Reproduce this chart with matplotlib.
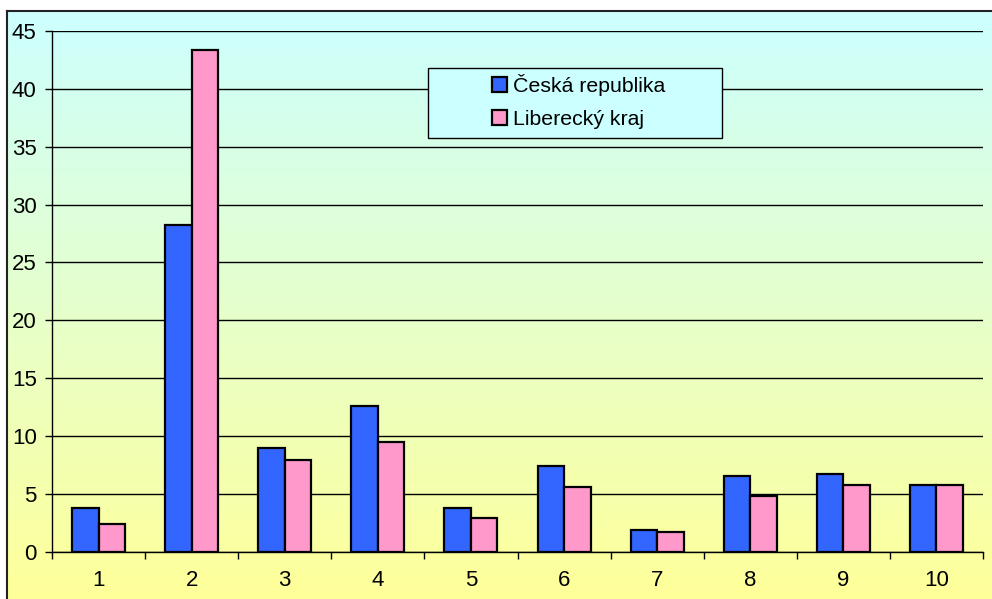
import numpy as np
import matplotlib.pyplot as plt
import matplotlib.colors as mcolors
from matplotlib.patches import Rectangle

plt.rcParams['font.family'] = ['Liberation Sans', 'DejaVu Sans']

categories = ['1', '2', '3', '4', '5', '6', '7', '8', '9', '10']
ceska = [3.8, 28.2, 9.0, 12.6, 3.8, 7.4, 1.9, 6.5, 6.7, 5.8]
liberecky = [2.4, 43.4, 7.9, 9.5, 2.9, 5.6, 1.7, 4.8, 5.8, 5.8]
series_names = ['Česká republika', 'Liberecký kraj']

W, H = 992, 599
fig = plt.figure(figsize=(W / 100, H / 100), dpi=100, facecolor='white')

# gradient background frame (cyan -> light yellow)
bg = fig.add_axes([7 / W, 0, 1 - 7 / W, (H - 11) / H])
cmap = mcolors.LinearSegmentedColormap.from_list('bg', ['#CCFFFF', '#FFFF99'])
grad = np.linspace(0, 1, 256).reshape(-1, 1)
bg.imshow(grad, aspect='auto', cmap=cmap, extent=[0, 1, 0, 1], origin='upper')
bg.set_xlim(0, 1)
bg.set_ylim(0, 1)
bg.set_xticks([])
bg.set_yticks([])
for s in ['right', 'bottom']:
    bg.spines[s].set_visible(False)
for s in ['left', 'top']:
    bg.spines[s].set_linewidth(1.5)
    bg.spines[s].set_color('#222222')

ax = fig.add_axes([52 / W, (H - 551.7) / H, 931 / W, 520.7 / H])
ax.set_facecolor('none')

x = np.arange(len(categories))
bw = 0.285
ax.bar(x - bw / 2, ceska, bw, color='#3366FF', edgecolor='black', linewidth=1.6,
       label=series_names[0], zorder=3)
ax.bar(x + bw / 2, liberecky, bw, color='#FF99CC', edgecolor='black', linewidth=1.6,
       label=series_names[1], zorder=3)

ax.set_xlim(-0.5, len(categories) - 0.5)
ax.set_ylim(0, 45)
ax.set_yticks(range(0, 46, 5))
ax.set_xticks(x)
ax.set_xticklabels(categories)
ax.set_xticks(np.arange(-0.5, len(categories), 1), minor=True)
ax.tick_params(axis='x', which='major', length=0, pad=13, labelsize=16)
ax.tick_params(axis='x', which='minor', length=5, direction='out', width=1)
ax.tick_params(axis='y', length=5, direction='out', width=1, labelsize=16, pad=6)
ax.yaxis.grid(True, color='black', linewidth=1, zorder=0)
ax.set_axisbelow(True)
for s in ['top', 'right']:
    ax.spines[s].set_visible(False)
for s in ['left', 'bottom']:
    ax.spines[s].set_linewidth(1)

# legend box (wider than its entries, as in the original)
box = Rectangle((428 / W, 1 - 138 / H), (722 - 428) / W, 70 / H,
                transform=fig.transFigure, facecolor='#CCFFFF',
                edgecolor='black', linewidth=1, zorder=4, clip_on=False)
ax.add_patch(box)

leg = ax.legend(loc='upper left', bbox_to_anchor=((492 - 52) / 931, (551.7 - 74) / 520.7),
                fontsize=15.3, frameon=False, handlelength=0.7, handleheight=0.7,
                handletextpad=0.3, borderpad=0, labelspacing=0.64,
                borderaxespad=0)
leg.set_zorder(5)

fig.savefig('out.png', dpi=100, facecolor='white')
